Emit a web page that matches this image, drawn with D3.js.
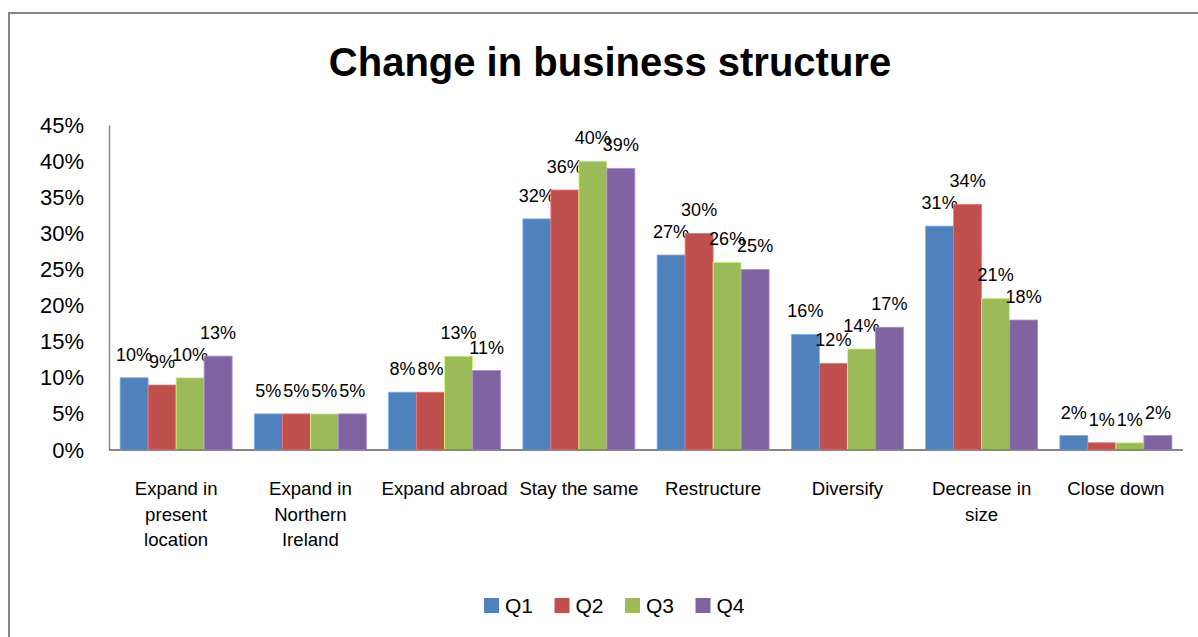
<!DOCTYPE html>
<html>
<head>
<meta charset="utf-8">
<script src="https://cdn.jsdelivr.net/npm/d3@7"></script>
<style>
  html, body { margin: 0; padding: 0; background: #ffffff; }
  svg { display: block; }
  text { font-family: "Liberation Sans", Arial, sans-serif; fill: #000; }
</style>
</head>
<body>
<svg id="chart" width="1198" height="637"></svg>
<script>
// Categories (line breaks give the wrapped axis labels)
const categories = [
  "Expand in\npresent\nlocation",
  "Expand in\nNorthern\nIreland",
  "Expand abroad",
  "Stay the same",
  "Restructure",
  "Diversify",
  "Decrease in\nsize",
  "Close down"
];
const series = ["Q1", "Q2", "Q3", "Q4"];
const colors = ["#4F81BD", "#C0504D", "#9BBB59", "#8064A2"];

// Percentages per quarter
const q1 = [10, 5, 8, 32, 27, 16, 31, 2];
const q2 = [9, 5, 8, 36, 30, 12, 34, 1];
const q3 = [10, 5, 13, 40, 26, 14, 21, 1];
const q4 = [13, 5, 11, 39, 25, 17, 18, 2];
const values = [q1, q2, q3, q4];

const yTicks = [0, 5, 10, 15, 20, 25, 30, 35, 40, 45];

const svg = d3.select("#chart");

// Outer chart frame
svg.append("rect")
  .attr("x", 9).attr("y", 13)
  .attr("width", 1210).attr("height", 650)
  .attr("fill", "#fff")
  .attr("stroke", "#868686")
  .attr("stroke-width", 2);

// Title
svg.append("text")
  .attr("x", 610).attr("y", 76)
  .attr("text-anchor", "middle")
  .style("font-size", "40px")
  .style("font-weight", "bold")
  .text("Change in business structure");

const plot = { left: 109, right: 1183, top: 125, bottom: 450 };

const y = d3.scaleLinear().domain([0, 45]).range([plot.bottom, plot.top]);

const x0 = d3.scaleBand()
  .domain(d3.range(categories.length))
  .range([plot.left, plot.right])
  .paddingInner(0.1657)
  .paddingOuter(0.0828);

const x1 = d3.scaleBand()
  .domain(series)
  .range([0, x0.bandwidth()])
  .padding(0);

// Y axis
const yAxis = svg.append("g")
  .attr("transform", `translate(${plot.left},0)`)
  .call(d3.axisLeft(y).tickValues(yTicks).tickSize(0).tickPadding(25)
    .tickFormat(d => d + "%"));
yAxis.select(".domain").attr("stroke", "#868686").attr("stroke-width", 1.5);
yAxis.selectAll(".tick text")
  .style("font-size", "22px")
  .style("font-family", "'Liberation Sans', Arial, sans-serif")
  .attr("fill", "#000");

// Bars
const groups = svg.append("g").selectAll("g")
  .data(series)
  .join("g")
  .attr("fill", (d, i) => colors[i]);

groups.each(function (s, si) {
  const g = d3.select(this);
  const data = values[si].map((v, ci) => ({ v, ci }));
  g.selectAll("rect")
    .data(data)
    .join("rect")
    .attr("x", d => x0(d.ci) + x1(s))
    .attr("y", d => y(d.v))
    .attr("width", x1.bandwidth())
    .attr("height", d => y(0) - y(d.v))
    .attr("stroke", d3.color(colors[si]).brighter(0.9))
    .attr("stroke-width", 0.8);

  g.selectAll("text")
    .data(data)
    .join("text")
    .attr("x", d => x0(d.ci) + x1(s) + x1.bandwidth() / 2)
    .attr("y", d => y(d.v) - 17)
    .attr("text-anchor", "middle")
    .style("font-size", "18px")
    .style("fill", "#000")
    .text(d => d.v + "%");
});

// X axis baseline
svg.append("line")
  .attr("x1", plot.left).attr("x2", plot.right)
  .attr("y1", y(0)).attr("y2", y(0))
  .attr("stroke", "#868686")
  .attr("stroke-width", 2);

// Category labels
const catLabels = svg.append("g").selectAll("text")
  .data(categories)
  .join("text")
  .attr("text-anchor", "middle")
  .attr("x", (d, i) => x0(i) + x0.bandwidth() / 2)
  .attr("y", 495)
  .style("font-size", "18.6px");
catLabels.each(function (d, i) {
  const t = d3.select(this);
  d.split("\n").forEach((line, li) => {
    t.append("tspan")
      .attr("x", x0(i) + x0.bandwidth() / 2)
      .attr("y", 495 + li * 25.5)
      .text(line);
  });
});

// Legend
const legend = svg.append("g").selectAll("g")
  .data(series)
  .join("g")
  .attr("transform", (d, i) => `translate(${484 + i * 70.5},598)`);
legend.append("rect")
  .attr("width", 15).attr("height", 15)
  .attr("fill", (d, i) => colors[i]);
legend.append("text")
  .attr("x", 21).attr("y", 15)
  .style("font-size", "21px")
  .text(d => d);
</script>
</body>
</html>
